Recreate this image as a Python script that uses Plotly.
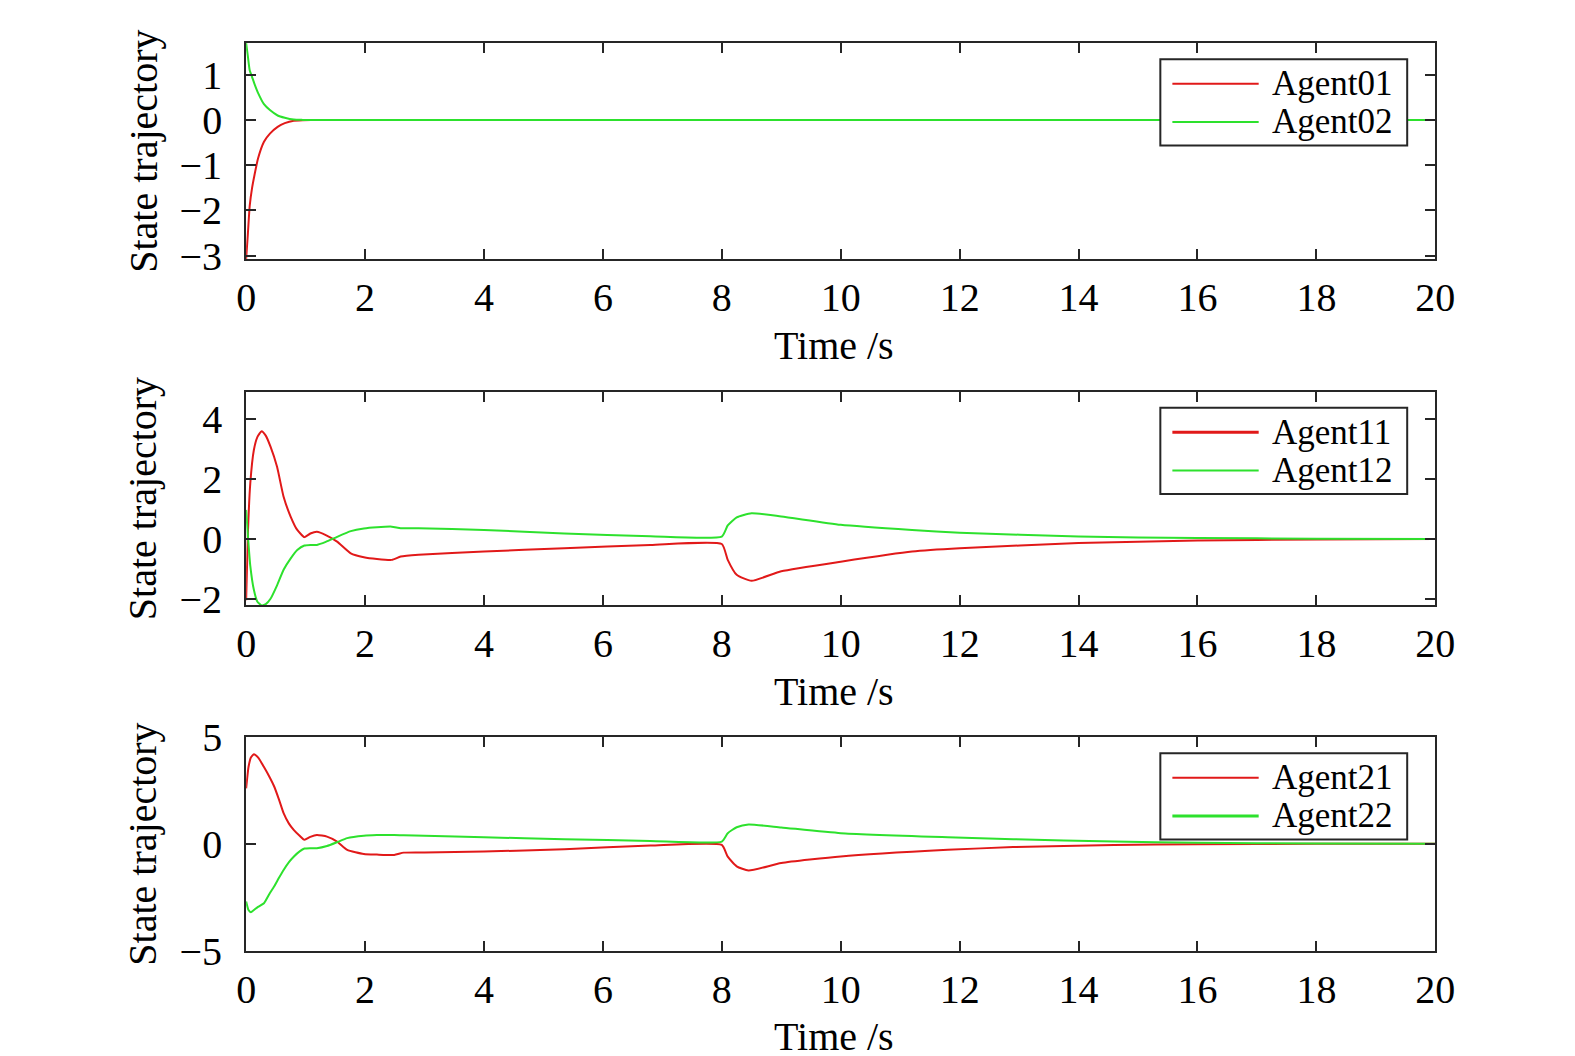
import plotly.graph_objects as go

# panel 1: Agent01 / Agent02
t1 = [0, 0.03, 0.06, 0.1, 0.14, 0.2, 0.3, 0.4, 0.53, 0.65, 0.8, 0.95, 1.2, 20]
y01 = [-3.07, -2.5, -1.9, -1.5, -1.22, -0.85, -0.48, -0.3, -0.15, -0.07, -0.015, -0.004, 0, 0]
y02 = [1.7, 1.4, 1.1, 0.95, 0.8, 0.6, 0.35, 0.22, 0.1, 0.05, 0.01, 0.003, 0, 0]

# panel 2: Agent11 / Agent12
t2 = [0, 0.03, 0.07, 0.13, 0.19, 0.26, 0.33, 0.41, 0.52, 0.63, 0.75, 0.86, 0.98, 1.08, 1.19,
      1.34, 1.53, 1.76, 1.98, 2.2, 2.45, 2.6, 2.9, 4, 5.35, 6.8, 8.0, 8.1, 8.25, 8.5, 9.0,
      10, 11.2, 12, 14, 16, 18, 20]
y11 = [-2.05, 0.2, 1.86, 2.97, 3.41, 3.6, 3.45, 3.08, 2.41, 1.41, 0.74, 0.3, 0.06, 0.18, 0.24,
       0.13, -0.09, -0.48, -0.61, -0.67, -0.7, -0.59, -0.53, -0.42, -0.31, -0.2, -0.17, -0.7,
       -1.2, -1.4, -1.08, -0.76, -0.42, -0.31, -0.14, -0.05, -0.02, 0]
y12 = [0.97, 0.1, -0.9, -1.7, -2.1, -2.22, -2.18, -2.0, -1.55, -1.03, -0.65, -0.37, -0.22, -0.2,
       -0.2, -0.1, 0.07, 0.26, 0.35, 0.39, 0.41, 0.36, 0.36, 0.3, 0.18, 0.09, 0.08, 0.45, 0.72,
       0.86, 0.75, 0.47, 0.3, 0.21, 0.08, 0.03, 0.01, 0]

# panel 3: Agent21 / Agent22
t3 = [0, 0.04, 0.08, 0.13, 0.2, 0.3, 0.4, 0.47, 0.55, 0.63, 0.72, 0.8, 0.9, 0.98, 1.08, 1.19,
      1.36, 1.53, 1.7, 1.98, 2.2, 2.49, 2.65, 3, 4, 5.35, 6.8, 8.0, 8.1, 8.25, 8.45, 9.0, 10,
      11.8, 12.9, 14.6, 16, 18, 20]
y21 = [2.6, 3.6, 4.05, 4.2, 4.05, 3.6, 3.1, 2.7, 2.1, 1.44, 0.95, 0.66, 0.38, 0.19, 0.33, 0.42,
       0.34, 0.11, -0.28, -0.47, -0.5, -0.52, -0.41, -0.4, -0.36, -0.25, -0.08, -0.05, -0.6,
       -1.05, -1.25, -0.9, -0.59, -0.28, -0.15, -0.05, -0.02, 0, 0]
y22 = [-2.7, -3.1, -3.2, -3.1, -2.95, -2.78, -2.3, -2.0, -1.6, -1.22, -0.85, -0.6, -0.35, -0.22,
       -0.2, -0.2, -0.1, 0.08, 0.27, 0.38, 0.41, 0.42, 0.4, 0.38, 0.31, 0.22, 0.14, 0.11, 0.5,
       0.78, 0.91, 0.77, 0.5, 0.31, 0.22, 0.11, 0.05, 0.02, 0]

xticks = [0, 2, 4, 6, 8, 10, 12, 14, 16, 18, 20]
yranges = [[-3.07, 1.7], [-2.21, 4.92], [-5, 5]]
yticks = [[-3, -2, -1, 0, 1], [-2, 0, 2, 4], [-5, 0, 5]]
names = [["Agent01", "Agent02"], ["Agent11", "Agent12"], ["Agent21", "Agent22"]]
legend_widths = [[2, 2], [3, 2], [2, 3]]

RED = "rgb(225,25,25)"
GREEN = "rgb(45,225,45)"
AX = "#262626"
FONT = "Liberation Serif"
W, H = 1575, 1056

# pixel layout of the three axes boxes (as seen in the screenshot)
x_left, x_right = 244, 1429
panel_px = [(41.7, 256.7), (389, 601.7), (733.3, 946)]

# page puts the figure a few px in, slightly scaled: undo that
OFF, SC = 6.7, 0.9965


def px_x(p):
    return ((p - OFF) / SC) / W


def px_y(p):
    return 1 - ((p - OFF) / SC) / H


fig = go.Figure()
series = [(t1, y01, y02), (t2, y11, y12), (t3, y21, y22)]
shapes = []
annotations = []

for i, (t, ya, yb) in enumerate(series):
    n = i + 1
    xa = "x" if n == 1 else f"x{n}"
    ya_ref = "y" if n == 1 else f"y{n}"
    for yy, col in [(ya, RED), (yb, GREEN)]:
        fig.add_trace(go.Scatter(x=t, y=yy, mode="lines", xaxis=xa, yaxis=ya_ref,
                                 line=dict(color=col, width=2, shape="spline", smoothing=0.5),
                                 showlegend=False))
    top, bot = panel_px[i]
    axis_common = dict(showline=True, mirror="ticks", linecolor=AX, linewidth=2,
                       ticks="inside", ticklen=10, tickwidth=2, tickcolor=AX,
                       showgrid=False, zeroline=False, automargin=False,
                       tickfont=dict(family=FONT, size=40, color="black"))
    fig.layout[f"xaxis{n if n > 1 else ''}"] = dict(
        domain=[px_x(x_left), px_x(x_right)], range=[0, 20], tickvals=xticks,
        anchor=ya_ref, ticklabelstandoff=2, **axis_common)
    fig.layout[f"yaxis{n if n > 1 else ''}"] = dict(
        domain=[px_y(bot), px_y(top)], range=yranges[i], tickvals=yticks[i],
        anchor=xa, ticklabelstandoff=14, **axis_common)

    # axis titles
    annotations.append(dict(text="State trajectory", x=px_x(141), y=px_y((top + bot) / 2),
                            xref="paper", yref="paper", showarrow=False, textangle=-90,
                            xanchor="center", yanchor="middle",
                            font=dict(family=FONT, size=40, color="black")))
    annotations.append(dict(text="Time /s", x=px_x(830), y=px_y(bot + 86),
                            xref="paper", yref="paper", showarrow=False,
                            xanchor="center", yanchor="middle",
                            font=dict(family=FONT, size=40, color="black")))

    # legend box
    bx0, bx1 = 1155, 1401
    by0, by1 = top + 16, top + 102
    shapes.append(dict(type="rect", xref="paper", yref="paper",
                       x0=px_x(bx0), x1=px_x(bx1), y0=px_y(by1), y1=px_y(by0),
                       line=dict(color=AX, width=2), fillcolor="white", layer="above"))
    for k, (col, ly) in enumerate([(RED, top + 40.5), (GREEN, top + 78.5)]):
        shapes.append(dict(type="line", xref="paper", yref="paper",
                           x0=px_x(1167), x1=px_x(1253), y0=px_y(ly), y1=px_y(ly),
                           line=dict(color=col, width=legend_widths[i][k]), layer="above"))
        annotations.append(dict(text=names[i][k], x=px_x(1264), y=px_y(ly),
                                xref="paper", yref="paper", showarrow=False,
                                xanchor="left", yanchor="middle",
                                font=dict(family=FONT, size=35, color="black")))

fig.update_layout(template="none", width=W, height=H, margin=dict(l=0, r=0, t=0, b=0),
                  paper_bgcolor="white", plot_bgcolor="white", showlegend=False,
                  shapes=shapes, annotations=annotations)

fig.write_html("out.html")
